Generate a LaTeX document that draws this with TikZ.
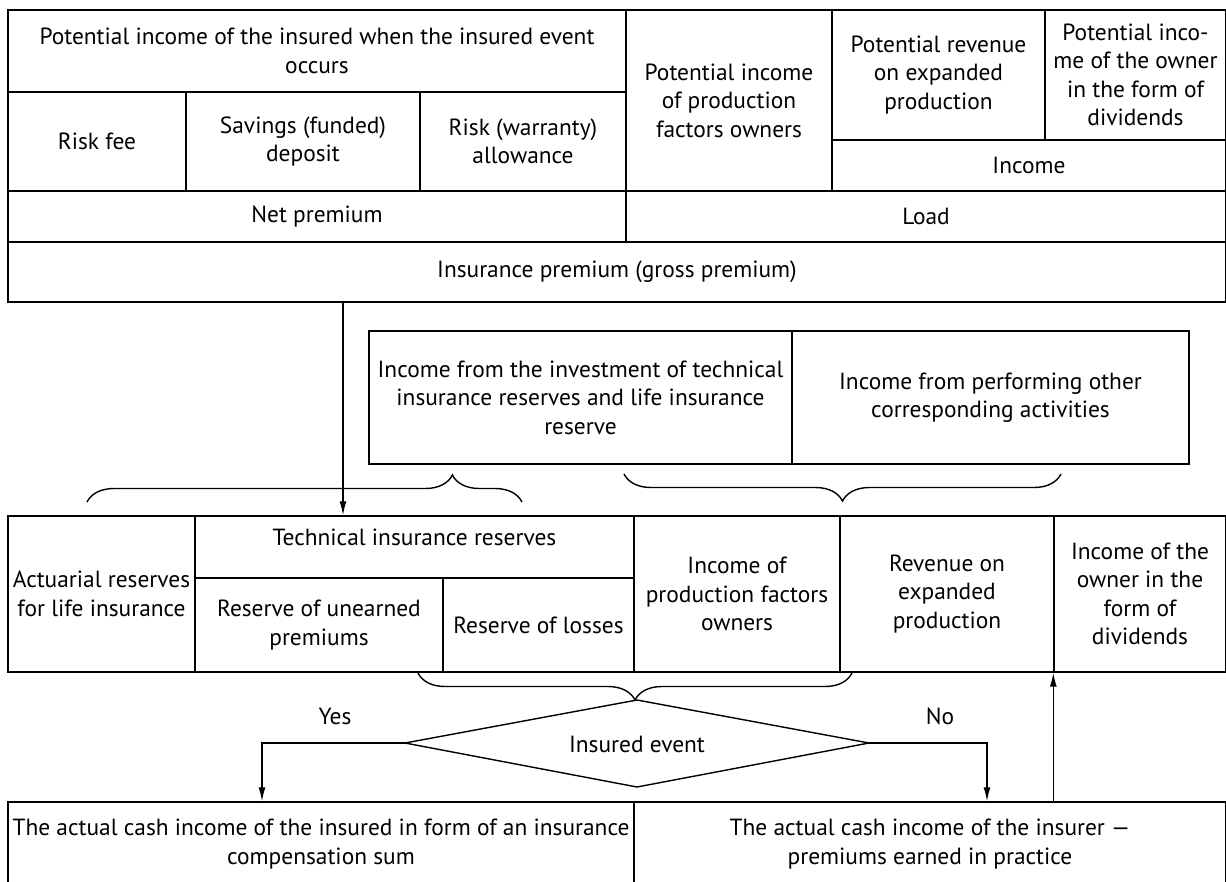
\documentclass[tikz,border=0pt]{standalone}
\usepackage{fontspec}
\setmainfont{PT Sans}
\usetikzlibrary{decorations.pathreplacing,arrows.meta,calc}
\newcommand\mycell[6]{\node[box, minimum width={#4-#2}, minimum height={#5-#3}] (#1) at ({(#2+#4)/2},{(#3+#5)/2}) {#6};}
\begin{document}
\begin{tikzpicture}[x=1pt,y=-1pt,
  box/.style={draw, line width=1.4pt, inner sep=0pt, align=center, font=\fontsize{23.4}{28.5}\selectfont},
  lbl/.style={inner sep=0pt, align=center, font=\fontsize{23.4}{28.5}\selectfont},
  arr/.style={line width=1.4pt, -{Latex[length=14pt,width=7pt]}},
  brc/.style={line width=1.4pt, decorate},
]
\useasboundingbox (0,0) rectangle (1226,881);
\clip (0,0) rectangle (1226,881);
% top block
\mycell{pinsured}{8}{10}{626}{92}{Potential income of the insured when the insured event\\occurs}
\mycell{riskfee}{8}{92}{186}{191}{Risk fee}
\mycell{savings}{186}{92}{420}{191}{Savings (funded)\\deposit}
\mycell{riskallow}{420}{92}{626}{191}{Risk (warranty)\\allowance}
\mycell{net}{8}{191}{626}{242}{Net premium}
\mycell{pfactors}{626}{10}{832}{191}{Potential income\\of production\\factors owners}
\mycell{prevenue}{832}{10}{1045}{140}{Potential revenue\\on expanded\\production}
\mycell{pdividends}{1045}{10}{1226}{140}{Potential inco-\\me of the owner\\in the form of\\dividends}
\mycell{income}{832}{140}{1226}{191}{Income}
\mycell{load}{626}{191}{1226}{242}{Load}
\mycell{gross}{8}{242}{1226}{302}{Insurance premium (gross premium)}
% middle
\mycell{invest}{369}{331}{792}{464}{Income from the investment of technical\\insurance reserves and life insurance\\reserve}
\mycell{other}{792}{331}{1189}{464}{Income from performing other\\corresponding activities}
% lower block
\mycell{actuarial}{8}{516}{195}{672}{Actuarial reserves\\for life insurance}
\mycell{tech}{195}{516}{634}{578}{}
\node[lbl] (techlbl) at (414.5,537) {Technical insurance reserves};
\mycell{unearned}{195}{578}{443}{672}{Reserve of unearned\\premiums}
\mycell{losses}{443}{578}{634}{672}{Reserve of losses}
\mycell{incfactors}{634}{516}{840}{672}{Income of\\production factors\\owners}
\mycell{revenue}{840}{516}{1054}{672}{Revenue on\\expanded\\production}
\mycell{dividends}{1054}{516}{1226}{672}{Income of the\\owner in the\\form of\\dividends}
% bottom row
\mycell{insuredcash}{8}{802}{634}{900}{}
\mycell{insurercash}{634}{802}{1226}{900}{}
\node[lbl] (insuredtxt) at (321,844) {The actual cash income of the insured in form of an insurance\\compensation sum};
\node[lbl] (insurertxt) at (930,844) {The actual cash income of the insurer ---\\premiums earned in practice};
% decision
\coordinate (dt) at (637,700);
\coordinate (dr) at (869,743);
\coordinate (db) at (637,787);
\coordinate (dl) at (405,743);
\draw[line width=1.4pt] (dt) -- (dr) -- (db) -- (dl) -- cycle;
\node[lbl] (event) at (637,744) {Insured event};
\node[lbl] (yes) at (335,716) {Yes};
\node[lbl] (no) at (940,716) {No};
% braces
\draw[brc, decoration={brace, amplitude=27pt, aspect=0.84}] (87,502) -- (522,502);
\draw[brc, decoration={brace, amplitude=27pt, mirror}] (624,474) -- (1061,474);
\draw[brc, decoration={brace, amplitude=27pt, mirror}] (418,673) -- (852,673);
% arrows
\coordinate (ax) at (343,0);
\coordinate (yesx) at (262,0);
\coordinate (nox) at (987,0);
\draw[arr] (gross.south -| ax) -- (tech.north -| ax);
\draw[arr] (dl) -| (insuredcash.north -| yesx);
\draw[arr] (dr) -| (insurercash.north -| nox);
\draw[arr] (insurercash.north -| dividends.south west) -- (dividends.south west);
\end{tikzpicture}
\end{document}
